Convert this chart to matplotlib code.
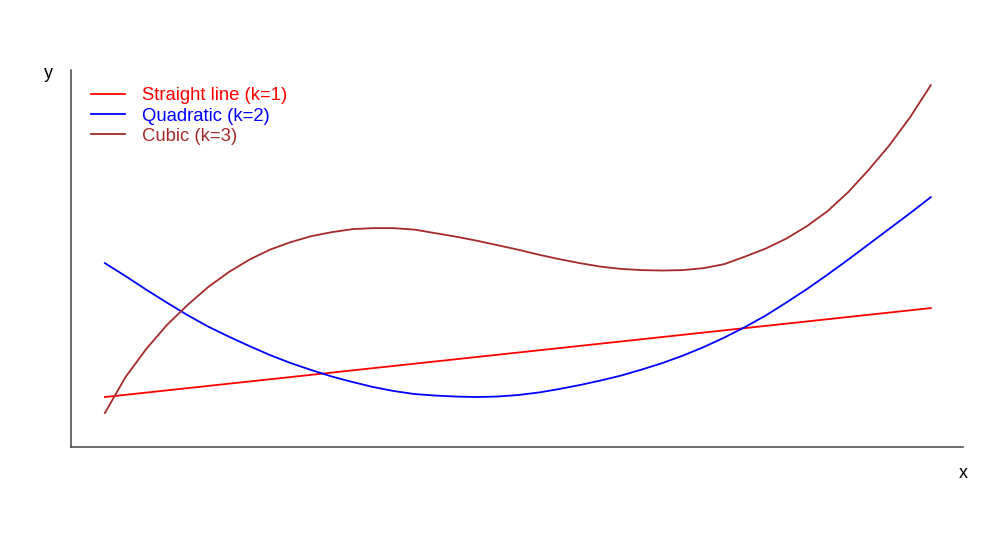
import matplotlib
matplotlib.use("Agg")
import matplotlib.pyplot as plt

plt.rcParams['font.family'] = ['Liberation Sans', 'DejaVu Sans']

x_grid = [0, 0.25, 0.5, 0.75, 1, 1.25, 1.5, 1.75, 2, 2.25, 2.5, 2.75, 3, 3.25, 3.5, 3.75,
          4, 4.25, 4.5, 4.75, 5, 5.25, 5.5, 5.75, 6, 6.25, 6.5, 6.75, 7, 7.25, 7.5, 7.75,
          8, 8.25, 8.5, 8.75, 9, 9.25, 9.5, 9.75, 10]
straight_x = [0, 10]
straight_y = [5.0, 13.9]
quadratic_y = [18.4, 17.1, 15.75, 14.45, 13.2, 12.05, 11.05, 10.1, 9.2, 8.4, 7.7, 7.05,
               6.5, 6.0, 5.6, 5.3, 5.15, 5.05, 5.0, 5.05, 5.2, 5.45, 5.8, 6.2, 6.65, 7.15,
               7.75, 8.4, 9.15, 10.0, 10.95, 12.0, 13.15, 14.45, 15.8, 17.25, 18.75, 20.3,
               21.85, 23.4, 25.0]
cubic_y = [3.4, 7.0, 9.8, 12.2, 14.2, 16.0, 17.5, 18.75, 19.75, 20.5, 21.1, 21.5, 21.8,
           21.9, 21.9, 21.75, 21.4, 21.05, 20.65, 20.2, 19.75, 19.25, 18.8, 18.4, 18.05,
           17.82, 17.7, 17.66, 17.7, 17.9, 18.3, 19.05, 19.85, 20.85, 22.1, 23.6, 25.5,
           27.75, 30.2, 33.0, 36.2]
labels = ["Straight line (k=1)", "Quadratic (k=2)", "Cubic (k=3)"]
colors = ["red", "blue", "brown"]

fig = plt.figure(figsize=(10, 5.36), dpi=100)
ax = fig.add_axes([0.071, 0.166, 0.892, 0.703])

ax.plot(straight_x, straight_y, color=colors[0], lw=1.3, label=labels[0])
ax.plot(x_grid, quadratic_y, color=colors[1], lw=1.3, label=labels[1])
ax.plot(x_grid, cubic_y, color=colors[2], lw=1.3, label=labels[2])

ax.set_xlim(-0.41, 10.39)
ax.set_ylim(0, 37.7)
ax.set_xticks([])
ax.set_yticks([])
for s in ["top", "right"]:
    ax.spines[s].set_visible(False)
for s in ["left", "bottom"]:
    ax.spines[s].set_color("#444444")
    ax.spines[s].set_linewidth(1.1)

leg = ax.legend(loc="upper left", bbox_to_anchor=(0.0034, 0.999), frameon=False,
                fontsize=13.3, handlelength=1.85, handletextpad=0.95, labelspacing=0.18)
for t, c in zip(leg.get_texts(), colors):
    t.set_color(c)

fig.text(0.048, 1 - 74 / 536, "y", fontsize=13, ha="center", va="center")
fig.text(0.963, 1 - 473 / 536, "x", fontsize=13, ha="center", va="center")

fig.savefig("out.png", dpi=100)
